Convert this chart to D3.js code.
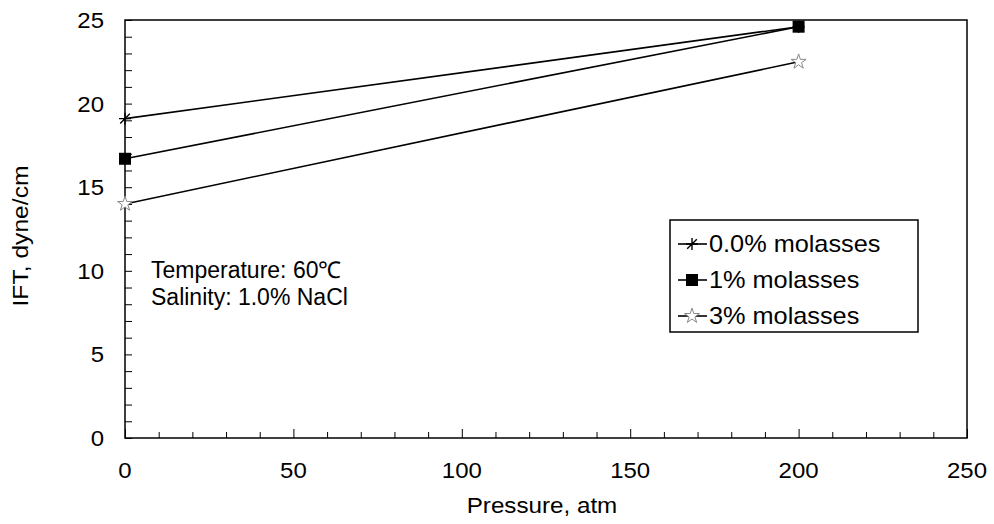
<!DOCTYPE html>
<html>
<head>
<meta charset="utf-8">
<script src="https://cdn.jsdelivr.net/npm/d3@7"></script>
<style>
  body { margin: 0; background: #fff; }
  text { font-family: "Liberation Sans", Arial, sans-serif; fill: #000; }
</style>
</head>
<body>
<div id="chart"></div>
<script>
// data
const pressure = [0, 200]
const seriesNames = ["0.0% molasses", "1% molasses", "3% molasses"]
const ift0 = [19.1, 24.6]
const ift1 = [16.7, 24.6]
const ift3 = [14.0, 22.5]
const xTicks = [0, 50, 100, 150, 200, 250]
const yTicks = [0, 5, 10, 15, 20, 25]

const width = 994, height = 524
const margin = { top: 20, right: 27, bottom: 86, left: 125 }

const svg = d3.select("#chart")
  .append("svg")
  .attr("width", width)
  .attr("height", height)

const x = d3.scaleLinear().domain([0, 250]).range([margin.left, width - margin.right])
const y = d3.scaleLinear().domain([0, 25]).range([height - margin.bottom, margin.top])

// the scanned text is a bit wider than plain Arial, so stretch it a little
function wideText(parent, tx, ty, str, size, sx, anchor, rot) {
  const g = parent.append("g")
    .attr("transform", `translate(${tx},${ty})` + (rot ? ` rotate(${rot})` : "") + ` scale(${sx},1)`)
  return g.append("text")
    .attr("text-anchor", anchor || "start")
    .attr("font-size", size)
    .text(str)
}

// frame
svg.append("rect")
  .attr("x", x(0)).attr("y", y(25))
  .attr("width", x(250) - x(0)).attr("height", y(0) - y(25))
  .attr("fill", "none").attr("stroke", "#000").attr("stroke-width", 1.5)

// x axis: ticks every 10 pointing inward
const xAxis = svg.append("g")
  .attr("transform", `translate(0,${y(0)})`)
  .call(d3.axisTop(x).tickValues(d3.range(0, 251, 10)).tickSize(6).tickFormat(""))
xAxis.select(".domain").remove()
xAxis.selectAll(".tick line").attr("stroke", "#000")
  .attr("y2", d => d % 50 === 0 ? -9 : -6)

const xLab = svg.append("g")
xTicks.forEach(d => {
  wideText(xLab, x(d), y(0) + 40, d, 22, 1.09, "middle")
})

// y axis: ticks every 1 pointing inward
const yAxis = svg.append("g")
  .attr("transform", `translate(${x(0)},0)`)
  .call(d3.axisRight(y).tickValues(d3.range(0, 26, 1)).tickSize(7).tickFormat(""))
yAxis.select(".domain").remove()
yAxis.selectAll(".tick line").attr("stroke", "#000")

const yLab = svg.append("g")
yTicks.forEach(d => {
  wideText(yLab, x(0) - 21, y(d) + 8, d, 22, 1.09, "end")
})

// axis titles
wideText(svg, (x(0) + x(250)) / 2 - 4, 513, "Pressure, atm", 22, 1.1, "middle")
wideText(svg, 28, 236, "IFT, dyne/cm", 22, 1.12, "middle", -90)

// markers
function drawMarker(g, i, cx, cy) {
  if (i === 0) {
    const s = 6
    g.append("path")
      .attr("d", `M${cx - s},${cy}L${cx + s},${cy}M${cx},${cy - s}L${cx},${cy + s}M${cx - s * 0.8},${cy + s * 0.8}L${cx + s * 0.8},${cy - s * 0.8}`)
      .attr("stroke", "#000").attr("stroke-width", 1.4).attr("fill", "none")
  } else if (i === 1) {
    g.append("rect")
      .attr("x", cx - 6).attr("y", cy - 6).attr("width", 12).attr("height", 12)
      .attr("fill", "#000")
  } else {
    g.append("path")
      .attr("transform", `translate(${cx},${cy})`)
      .attr("d", d3.symbol(d3.symbolStar, 70)())
      .attr("fill", "#fff").attr("stroke", "#888").attr("stroke-width", 1)
  }
}

const allSeries = [ift0, ift1, ift3]
const line = d3.line().x((d, j) => x(pressure[j])).y(d => y(d))

allSeries.forEach((vals, i) => {
  const g = svg.append("g")
  g.append("path")
    .datum(vals)
    .attr("d", line)
    .attr("fill", "none")
    .attr("stroke", "#000")
    .attr("stroke-width", 1.6)
  vals.forEach((v, j) => drawMarker(g, i, x(pressure[j]), y(v)))
})

// annotation
svg.append("text")
  .attr("x", 151).attr("y", 278)
  .attr("font-size", 23)
  .text("Temperature: 60\u2103")
svg.append("text")
  .attr("x", 151).attr("y", 305)
  .attr("font-size", 23)
  .text("Salinity: 1.0% NaCl")

// legend
const legend = svg.append("g")
legend.append("rect")
  .attr("x", 670).attr("y", 220)
  .attr("width", 248).attr("height", 112)
  .attr("fill", "#fff").attr("stroke", "#000").attr("stroke-width", 1.5)

seriesNames.forEach((name, i) => {
  const cy = 244 + i * 36
  const g = legend.append("g")
  g.append("line")
    .attr("x1", 678).attr("x2", 707).attr("y1", cy).attr("y2", cy)
    .attr("stroke", "#000").attr("stroke-width", 1.6)
  drawMarker(g, i, 692, cy)
  wideText(g, 709, cy + 8, name, 23, 1.1, "start")
})
</script>
</body>
</html>
